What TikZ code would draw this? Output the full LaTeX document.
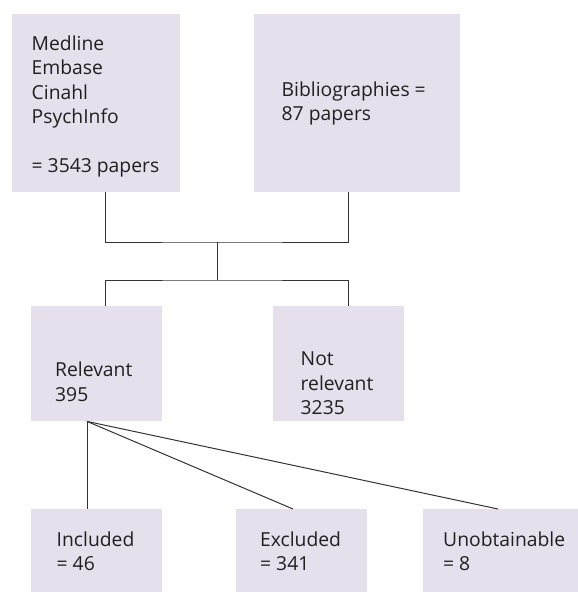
\documentclass[tikz,border=0pt]{standalone}
\usepackage{fontspec}
\setmainfont{Open Sans}
\usetikzlibrary{calc}
\definecolor{boxfill}{HTML}{E6DFEC}
\definecolor{linecol}{HTML}{333333}
\definecolor{txtcol}{HTML}{231F20}
\tikzset{
  boxnode/.style={rectangle, fill=boxfill, draw=none, inner sep=0pt, anchor=north west},
  txt/.style={anchor=base west, inner sep=0pt, align=left, text=txtcol,
    font=\fontsize{19.3}{24.5}\selectfont},
  conn/.style={draw=linecol, line width=1pt},
}
\begin{document}
\begin{tikzpicture}[x=1pt, y=-1pt]
\useasboundingbox (0,0) rectangle (578,592);
% boxes
\node[boxnode, minimum width=168pt, minimum height=178pt] (b1) at (12,14) {};
\node[boxnode, minimum width=206pt, minimum height=178pt] (b2) at (254,14) {};
\node[boxnode, minimum width=131pt, minimum height=115pt] (rel) at (31,306) {};
\node[boxnode, minimum width=131pt, minimum height=115pt] (nrel) at (273,306) {};
\node[boxnode, minimum width=131pt, minimum height=83pt] (inc) at (31,509) {};
\node[boxnode, minimum width=131pt, minimum height=83pt] (exc) at (236,509) {};
\node[boxnode, minimum width=155pt, minimum height=83pt] (unob) at (423,509) {};
% texts (anchor = baseline of last line)
\node[txt] (t1) at (31.5,172.5) {Medline\\Embase\\Cinahl\\PsychInfo\\[24.5pt]= 3543 papers};
\node[txt] (t2) at (281.5,120.7) {Bibliographies =\\87 papers};
\node[txt] (t3) at (55,401) {Relevant\\395};
\node[txt] (t4) at (300.5,414.8) {Not\\relevant\\3235};
\node[txt] (t5) at (56.5,570.7) {Included\\= 46};
\node[txt] (t6) at (260,570.7) {Excluded\\= 341};
\node[txt] (t7) at (443,570.7) {Unobtainable\\= 8};
% junctions
\coordinate (j1) at (217.5,242);
\coordinate (j2) at (217.5,280);
% connectors
\draw[conn] ($(b1.south west)+(93.5,0)$) |- (j1) -| ($(b2.south west)+(94,0)$);
\draw[conn] (j1) -- (j2);
\draw[conn] ($(rel.north west)+(74.5,0)$) |- (j2) -| ($(nrel.north west)+(75,0)$);
\coordinate (fan) at ($(rel.south west)+(56,0)$);
\draw[conn] (fan) -- ($(inc.north west)+(56,0)$);
\draw[conn] (fan) -- ($(exc.north west)+(57,0)$);
\draw[conn] (fan) -- ($(unob.north west)+(75,0)$);
\end{tikzpicture}
\end{document}
